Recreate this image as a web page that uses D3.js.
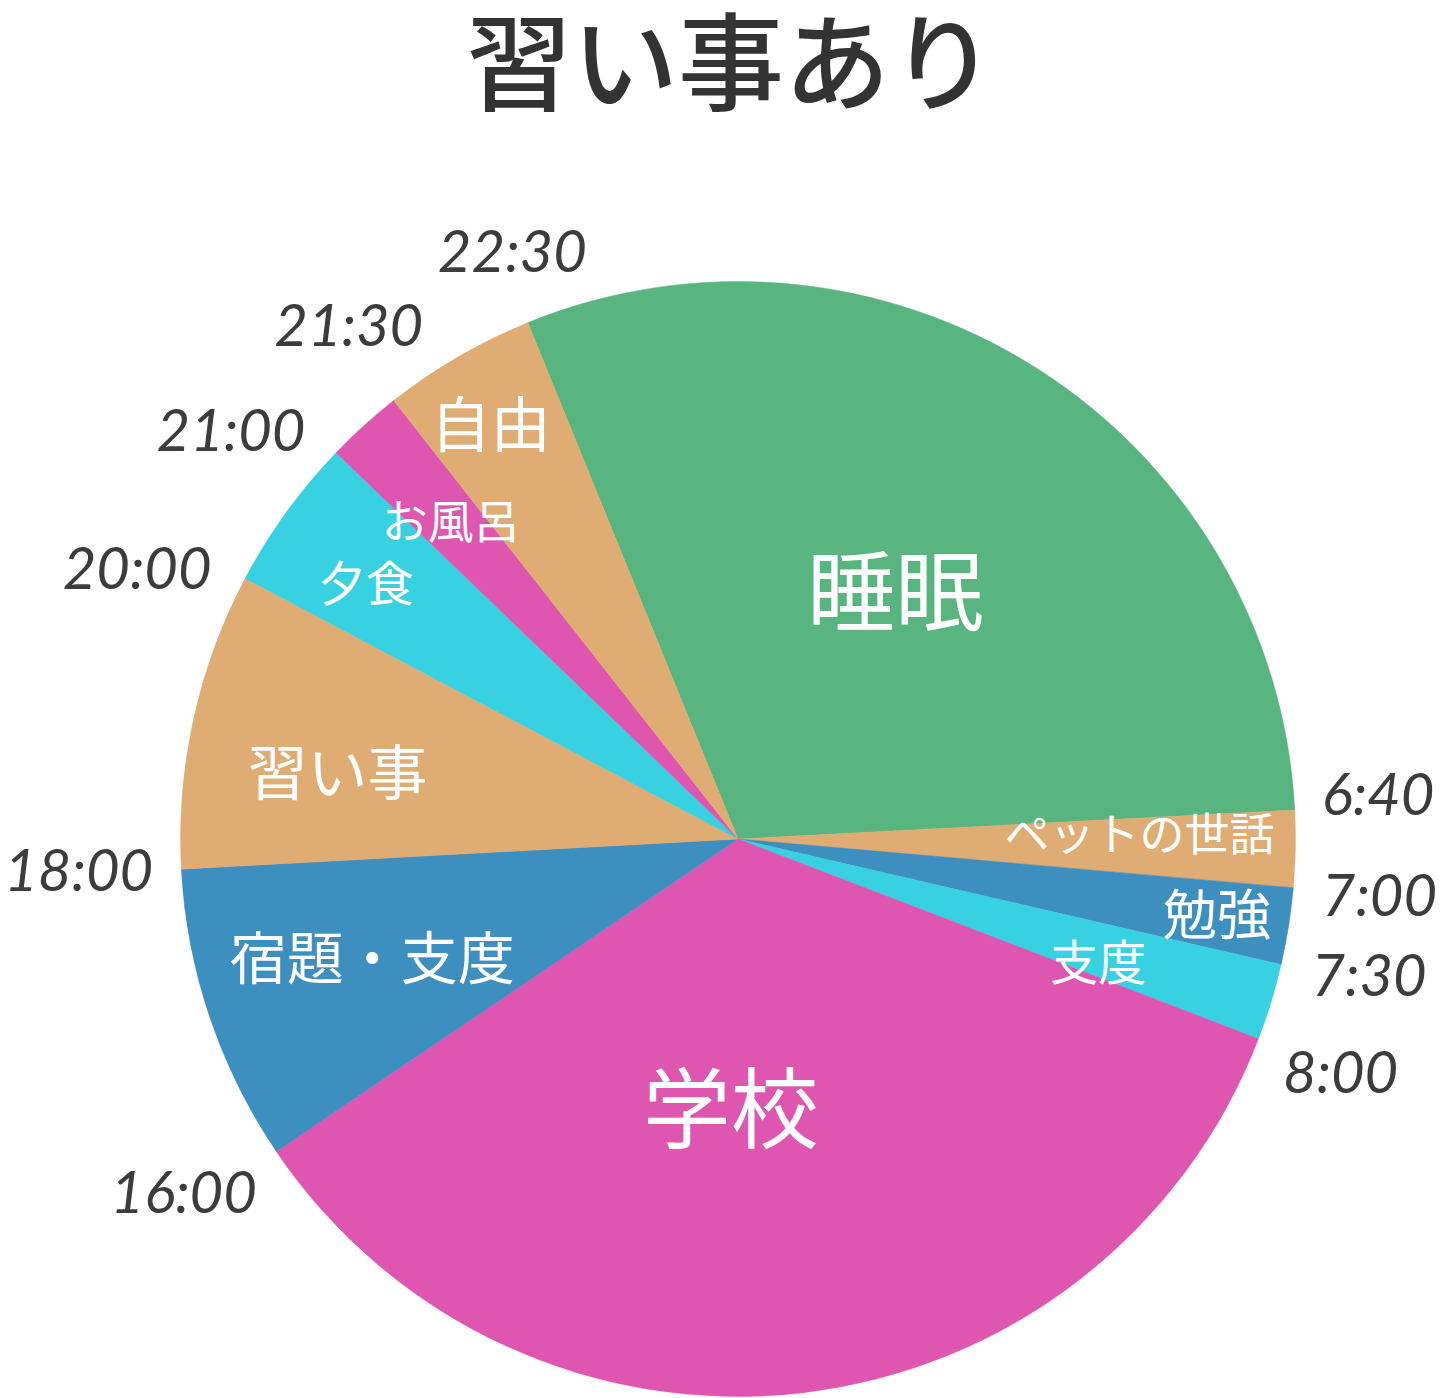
<!DOCTYPE html>
<html>
<head>
<meta charset="utf-8">
<script src="https://cdn.jsdelivr.net/npm/d3@7"></script>
<style>
  body { margin: 0; background: #fff; }
  svg { display: block; }
</style>
</head>
<body>
<div id="chart"></div>
<script>
var w = 1448; // page width
var h = 1398; // page height

// activities, clockwise from the 22:30 boundary
var categories = ["睡眠", "ペットの世話", "勉強", "支度", "学校", "宿題・支度", "習い事", "夕食", "お風呂", "自由"];
// minutes per activity
var minutes = [437, 32, 32, 32, 500, 124, 124, 64, 32, 64];
// time printed at the start of each slice
var startTimes = ["22:30", "6:40", "7:00", "7:30", "8:00", "16:00", "18:00", "20:00", "21:00", "21:30"];

var colors = ["#58b57f", "#dfad73", "#3d8fc0", "#37d1e2", "#df56b1", "#3d8fc0", "#dfad73", "#37d1e2", "#df56b1", "#dfad73"];
// label styling: font size, radius as share of r, angle nudge in degrees
var labelSize = [88, 45, 54, 48, 88, 57, 60, 48, 46, 60];
var labelRadius = [0.526, 0.72, 0.87, 0.683, 0.483, 0.69, 0.728, 0.81, 0.768, 0.865];
var labelNudge = [0, -1.6, 0, 1.9, 8.1, 0.5, -3, -1.4, 0, -0.7];
var timeNudge = [1.2, -1.2, -0.2, -1, 0, 1.7, 0.5, -3.5, -4.9, 1.1];

var cx = 738, cy = 839, r = 557.5;
var startDeg = -22.15;
var rad = Math.PI / 180;

var svg = d3.select("#chart").append("svg")
    .attr("width", w)
    .attr("height", h);

svg.append("text")
    .attr("x", 731)
    .attr("y", 62)
    .attr("text-anchor", "middle")
    .attr("dominant-baseline", "central")
    .attr("dy", "-0.06em")
    .attr("font-family", "'Noto Sans CJK JP', sans-serif")
    .attr("font-weight", 500)
    .attr("font-size", 106)
    .attr("fill", "#333")
    .text("習い事あり");

var pie = d3.pie()
    .sort(null)
    .value(function(d) { return d; })
    .startAngle(startDeg * rad)
    .endAngle(startDeg * rad + 2 * Math.PI);

var arcs = pie(minutes);
var arc = d3.arc().innerRadius(0).outerRadius(r);

var g = svg.append("g")
    .attr("transform", "translate(" + cx + "," + cy + ")");

g.selectAll("path")
    .data(arcs)
    .enter().append("path")
    .attr("d", arc)
    .attr("fill", function(d, i) { return colors[i]; })
    .attr("stroke", function(d, i) { return colors[i]; })
    .attr("stroke-width", 0.5);

// activity names inside the slices
g.selectAll("text.name")
    .data(arcs)
    .enter().append("text")
    .attr("class", "name")
    .attr("transform", function(d, i) {
        var a = (d.startAngle + d.endAngle) / 2 + labelNudge[i] * rad;
        var rr = r * labelRadius[i];
        return "translate(" + (Math.sin(a) * rr) + "," + (-Math.cos(a) * rr) + ")";
    })
    .attr("text-anchor", "middle")
    .attr("dominant-baseline", "central")
    .attr("dy", "-0.07em")
    .attr("font-family", "'Noto Sans CJK JP', sans-serif")
    .attr("font-size", function(d, i) { return labelSize[i]; })
    .attr("fill", "#fff")
    .text(function(d, i) { return categories[i]; });

// boundary times outside the pie
var times = g.selectAll("text.time")
    .data(arcs)
    .enter().append("text")
    .attr("class", "time")
    .attr("text-anchor", "middle")
    .attr("dominant-baseline", "central")
    .attr("font-family", "Lato, sans-serif")
    .attr("font-style", "italic")
    .attr("font-size", 58)
    .attr("fill", "#3c3c3c")
    .text(function(d, i) { return startTimes[i]; });

times.attr("transform", function(d, i) {
    var a = d.startAngle;
    var bb = this.getBBox();
    var ext = Math.abs(Math.sin(a)) * bb.width / 2 + Math.abs(Math.cos(a)) * 20;
    var dist = r + 27 + ext;
    var b = a + timeNudge[i] * rad;
    return "translate(" + (Math.sin(b) * dist) + "," + (-Math.cos(b) * dist) + ")";
});
</script>
</body>
</html>
